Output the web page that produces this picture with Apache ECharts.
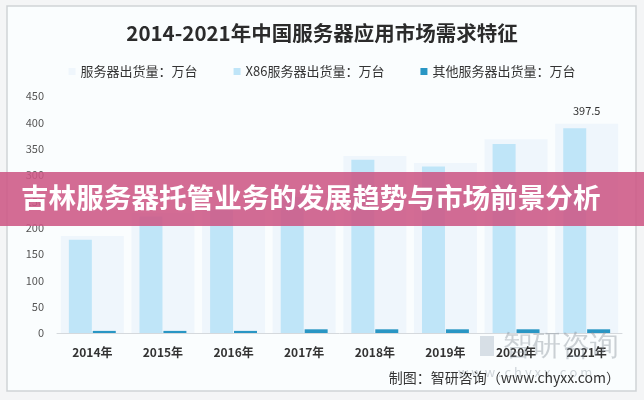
<!DOCTYPE html>
<html>
<head>
<meta charset="utf-8">
<script src="https://cdn.jsdelivr.net/npm/echarts@6/dist/echarts.min.js"></script>
<style>
  html, body { margin: 0; padding: 0; background: #f4f5f6; }
  #chart { width: 644px; height: 400px; }
</style>
</head>
<body>
<div id="chart"></div>
<script>
// 年份
const years = ['2014年', '2015年', '2016年', '2017年', '2018年', '2019年', '2020年', '2021年']
// 服务器出货量（万台）
const totalShip = [184, 228, 241, 266, 336, 323, 368, 397.5]
// X86服务器出货量（万台）
const x86Ship = [177, 221, 234, 258, 329, 316, 359, 389]
// 其他服务器出货量（万台）
const otherShip = [4, 4, 4, 7, 7, 7, 7, 7]
const yTicks = [0, 50, 100, 150, 200, 250, 300, 350, 400, 450]

const FONT = '"Noto Sans CJK SC", "Noto Sans", sans-serif'
const myChart = echarts.init(document.getElementById('chart'))

const option = {
  backgroundColor: '#f4f5f6',
  textStyle: { fontFamily: FONT },
  title: {
    text: '2014-2021年中国服务器应用市场需求特征',
    left: 'center',
    top: 18,
    textStyle: { fontSize: 20.5, fontWeight: 'bold', color: '#2b2b2b', fontFamily: FONT },
  },
  legend: {
    top: 60,
    left: 'center',
    itemWidth: 7,
    itemHeight: 7,
    itemGap: 36,
    icon: 'rect',
    textStyle: { fontSize: 13, color: '#333', fontFamily: FONT },
    data: ['服务器出货量：万台', 'X86服务器出货量：万台', '其他服务器出货量：万台'],
  },
  grid: { left: 57, right: 22, top: 96, bottom: 67 },
  xAxis: [
    {
      type: 'category',
      data: years,
      axisLine: { lineStyle: { color: '#d5d9dd' } },
      axisTick: { show: false },
      axisLabel: { fontSize: 12, fontWeight: 'bold', color: '#333', margin: 13, fontFamily: FONT },
    },
    {
      // 背景宽柱用
      type: 'category',
      data: years,
      show: false,
    },
  ],
  yAxis: {
    type: 'value',
    min: yTicks[0],
    max: yTicks[yTicks.length - 1],
    interval: 50,
    axisLine: { show: false },
    axisTick: { show: false },
    splitLine: { show: false },
    axisLabel: { fontSize: 11, color: '#555', margin: 13 },
  },
  series: [
    {
      name: '服务器出货量：万台',
      type: 'bar',
      xAxisIndex: 1,
      barWidth: 63,
      z: 1,
      itemStyle: { color: '#eff6fc' },
      data: totalShip.map((v, i) =>
        i === totalShip.length - 1
          ? { value: v, label: { show: true, position: 'top', color: '#333', fontSize: 11, distance: 7 } }
          : v
      ),
    },
    {
      name: 'X86服务器出货量：万台',
      type: 'bar',
      barWidth: 23,
      barGap: '4%',
      z: 3,
      itemStyle: { color: '#bfe5f8' },
      data: x86Ship,
    },
    {
      name: '其他服务器出货量：万台',
      type: 'bar',
      barWidth: 23,
      z: 3,
      itemStyle: { color: '#2996c4' },
      data: otherShip,
    },
  ],
  graphic: [
    {
      type: 'rect',
      z: -10,
      shape: { x: 7, y: 6, width: 629, height: 385 },
      style: { fill: '#fafdfe', stroke: '#cfd3d6', lineWidth: 1.5 },
    },
    {
      type: 'rect',
      z: 50,
      shape: { x: 480, y: 336, width: 14, height: 20 },
      style: { fill: 'rgba(150,165,185,0.35)' },
    },
    {
      type: 'text',
      z: 50,
      left: 503,
      top: 332,
      style: { text: '智研咨询', fontSize: 29, fill: 'rgba(130,140,150,0.4)', font: '29px ' + FONT },
    },
    {
      type: 'text',
      z: 50,
      left: 458,
      top: 366,
      style: { text: 'w w w . c h y x x . c o m', fill: 'rgba(140,150,160,0.4)', font: '13px ' + FONT },
    },
    {
      type: 'text',
      z: 60,
      right: 24,
      top: 371,
      style: { text: '制图：智研咨询（www.chyxx.com）', fill: '#333', font: '14px ' + FONT },
    },
    {
      type: 'rect',
      z: 100,
      shape: { x: 0, y: 172, width: 644, height: 54 },
      style: { fill: 'rgba(205,88,133,0.88)' },
    },
    {
      type: 'text',
      z: 101,
      left: 21,
      top: 184,
      style: { text: '吉林服务器托管业务的发展趋势与市场前景分析', fill: '#fff', font: 'bold 27.6px ' + FONT },
    },
  ],
}

myChart.setOption(option)
</script>
</body>
</html>
